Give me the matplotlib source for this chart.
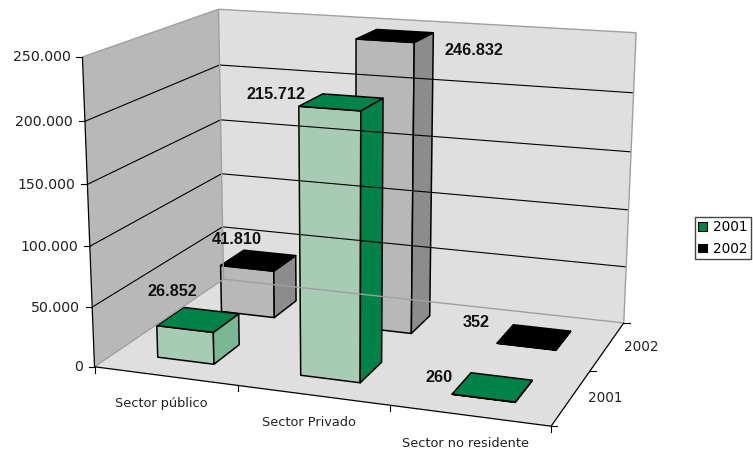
import matplotlib
matplotlib.use('Agg')
import matplotlib.pyplot as plt
import numpy as np
from matplotlib.patches import Patch, Polygon

categories = ['Sector público', 'Sector Privado', 'Sector no residente']
series_names = ['2001', '2002']
values_2001 = [26852, 215712, 260]
values_2002 = [41810, 246832, 352]
value_labels_2001 = ['26.852', '215.712', '260']
value_labels_2002 = ['41.810', '246.832', '352']
value_ticks = [0, 50000, 100000, 150000, 200000, 250000]
value_tick_labels = ['0', '50.000', '100.000', '150.000', '200.000', '250.000']
value_max = 250000

# camera calibration: where the corners of the plot box land on the canvas
box_corners = [(0, 0, 0), (1, 0, 0), (0, 1, 0), (1, 1, 0), (0, 0, 1), (0, 1, 1), (1, 1, 1)]
canvas_corners = [(95, 366), (551, 427), (223, 280), (624, 322), (82, 57), (219, 9), (636, 33)]


def fit_camera(world, image):
    """DLT fit of a 3x4 projective camera"""
    rows = []
    for (x, y, z), (u, v) in zip(world, image):
        rows.append([x, y, z, 1, 0, 0, 0, 0, -u * x, -u * y, -u * z, -u])
        rows.append([0, 0, 0, 0, x, y, z, 1, -v * x, -v * y, -v * z, -v])
    _, _, vt = np.linalg.svd(np.array(rows, dtype=float))
    return vt[-1].reshape(3, 4)


camera = fit_camera(box_corners, canvas_corners)


def proj(x, y, z):
    """Plot box coordinates (all 0-1) to canvas coordinates"""
    p = camera @ np.array([x, y, z, 1.0])
    return p[0] / p[2], p[1] / p[2]


def proj_value(x, y, value):
    return proj(x, y, value / value_max)


def face(ax, points, color, edge='black', lw=1.1):
    ax.add_patch(Polygon([proj(*p) for p in points], closed=True, facecolor=color,
                         edgecolor=edge, linewidth=lw, joinstyle='round'))


def line(ax, a, b, color='black', lw=0.8):
    (x0, y0), (x1, y1) = proj(*a), proj(*b)
    ax.plot([x0, x1], [y0, y1], color=color, lw=lw, solid_capstyle='butt')


def draw_bar(ax, cat, ser, value, front, top, side):
    x0, x1 = (cat + 0.3) / len(categories), (cat + 0.7) / len(categories)
    y0, y1 = (ser + 0.3) / len(series_names), (ser + 0.7) / len(series_names)
    h = value / value_max
    face(ax, [(x0, y0, 0), (x1, y0, 0), (x1, y0, h), (x0, y0, h)], front)
    face(ax, [(x1, y0, 0), (x1, y1, 0), (x1, y1, h), (x1, y0, h)], side)
    face(ax, [(x0, y0, h), (x1, y0, h), (x1, y1, h), (x0, y1, h)], top)


fig = plt.figure(figsize=(7.53, 4.51), dpi=100)
ax = fig.add_axes([0, 0, 1, 1])
ax.set_xlim(0, 753)
ax.set_ylim(451, 0)
ax.set_axis_off()

# walls and floor
wall_edge = '#a0a0a0'
face(ax, [(0, 0, 0), (0, 1, 0), (0, 1, 1), (0, 0, 1)], '#b8b8b8', edge='none')
face(ax, [(0, 1, 0), (1, 1, 0), (1, 1, 1), (0, 1, 1)], '#dfdfdf', edge='none')
face(ax, [(0, 0, 0), (1, 0, 0), (1, 1, 0), (0, 1, 0)], '#dfdfdf', edge='none')

# gridlines
for tick in value_ticks[1:-1]:
    z = tick / value_max
    line(ax, (0, 0, z), (0, 1, z))
    line(ax, (0, 1, z), (1, 1, z))

line(ax, (0, 0, 1), (0, 1, 1), wall_edge, 1.0)
line(ax, (0, 1, 1), (1, 1, 1), wall_edge, 1.0)
line(ax, (1, 1, 1), (1, 1, 0), wall_edge, 1.0)
line(ax, (0, 1, 1), (0, 1, 0), wall_edge, 1.0)
line(ax, (0, 0, 0), (0, 1, 0), wall_edge, 1.0)
line(ax, (0, 1, 0), (1, 1, 0), wall_edge, 1.0)

# axis lines
line(ax, (0, 0, 0), (0, 0, 1), 'black', 0.9)
line(ax, (0, 0, 0), (1, 0, 0), 'black', 0.9)
line(ax, (1, 0, 0), (1, 1, 0), 'black', 0.9)

font_axis = 'DejaVu Sans'
for tick, label in zip(value_ticks, value_tick_labels):
    px, py = proj_value(0, 0, tick)
    ax.plot([px - 6, px], [py, py], color='black', lw=0.8)
    ax.text(px - 12, py + 0.5, label, ha='right', va='center', fontsize=10.2, color='#222222',
            family=font_axis)

n_cat = len(categories)
for i in range(n_cat + 1):
    px, py = proj(i / n_cat, 0, 0)
    ax.plot([px, px], [py, py + 6], color='black', lw=0.8)
for i, label in enumerate(categories):
    px, py = proj((i + 0.5) / n_cat, 0, 0)
    ax.text(px - 4, py + 27.5, label, ha='center', va='center', fontsize=9.3, color='#222222',
            family=font_axis)

n_ser = len(series_names)
for j in range(n_ser + 1):
    px, py = proj(1, j / n_ser, 0)
    ax.plot([px, px + 6], [py, py], color='black', lw=0.8)
for j, label in enumerate(series_names):
    px, py = proj(1, (j + 0.5) / n_ser, 0)
    ax.text(px + 34, py + 1, label, ha='center', va='center', fontsize=9.8, color='#222222',
            family=font_axis)

# bars, back row first
green, pale_green = '#008248', '#a8cbb6'
grey_front, grey_side = '#b8b8b8', '#8c8c8c'
sides_2001 = ['#7ab895', green, green]
for i, value in enumerate(values_2002):
    draw_bar(ax, i, 1, value, grey_front, 'black', grey_side)
for i, value in enumerate(values_2001):
    draw_bar(ax, i, 0, value, pale_green, green, sides_2001[i])

# data labels, offsets in canvas pixels from the bar top centre
offsets_2001 = [(-26, -28), (-65, -8), (-54, -10)]
offsets_2002 = [(-22, -21), (79, 15), (-58, -15)]
for ser, (vals, labels, offsets) in enumerate([(values_2001, value_labels_2001, offsets_2001),
                                               (values_2002, value_labels_2002, offsets_2002)]):
    for i, value in enumerate(vals):
        px, py = proj_value((i + 0.5) / n_cat, (ser + 0.5) / n_ser, value)
        ax.text(px + offsets[i][0], py + offsets[i][1], labels[i], ha='center', va='center',
                fontsize=11.7, fontweight='bold', family='Liberation Sans', color='#111111')

handles = [Patch(facecolor=green, edgecolor='black', lw=0.8),
           Patch(facecolor='black', edgecolor='black', lw=0.8)]
ax.legend(handles, series_names, loc='upper left', bbox_to_anchor=(695, 217),
          bbox_transform=ax.transData, borderaxespad=0, frameon=True, fancybox=False,
          edgecolor='#444444', framealpha=1, handlelength=0.6, handleheight=0.6,
          handletextpad=0.45, labelspacing=0.55, borderpad=0.25,
          prop={'family': font_axis, 'size': 9.8})

fig.savefig('out.png', dpi=100)
